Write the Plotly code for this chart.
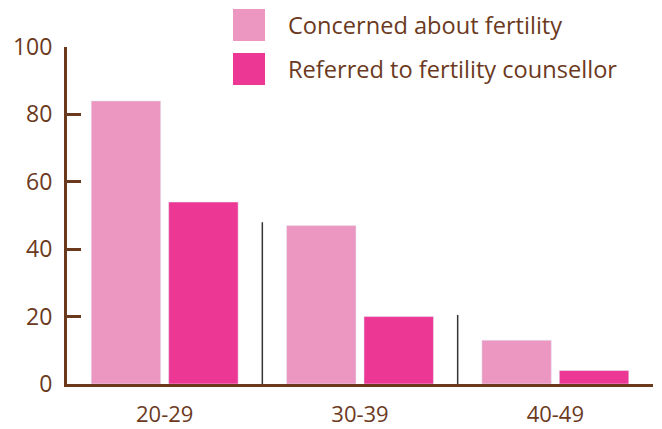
import plotly.graph_objects as go

categories = ["20-29", "30-39", "40-49"]
concerned = [84, 47, 13]
referred = [54, 20, 4]
series_names = ["Concerned about fertility", "Referred to fertility counsellor"]
separator_heights = [48, 20.5]

BROWN = "#6B3A1E"
LIGHT = "#EC97C1"
DARK = "#EC3894"
FONT = "Open Sans, sans-serif"
FS = 23

fig = go.Figure()
fig.add_bar(x=categories, y=concerned, name=series_names[0], marker_color=LIGHT, showlegend=False)
fig.add_bar(x=categories, y=referred, name=series_names[1], marker_color=DARK, showlegend=False)

shapes = []
for i, h in enumerate(separator_heights):
    shapes.append(dict(type="line", xref="x", yref="y", x0=i + 0.5, x1=i + 0.5, y0=0, y1=h,
                       line=dict(color="#333333", width=1.5)))
# custom legend
annotations = []
for j, (name, col) in enumerate(zip(series_names, [LIGHT, DARK])):
    y_top = 9 + j * 44
    shapes.append(dict(type="rect", xref="paper", yref="paper",
                       x0=(233 - 67) / 586, x1=(265 - 67) / 586,
                       y0=1 - (y_top + 32 - 47) / 337, y1=1 - (y_top - 47) / 337,
                       fillcolor=col, line=dict(width=0), layer="above"))
    annotations.append(dict(xref="paper", yref="paper", x=(286 - 67) / 586,
                            y=1 - (y_top + 16 - 47) / 337, text=name, showarrow=False,
                            xanchor="left", yanchor="middle",
                            font=dict(family=FONT, size=23.6, color=BROWN)))

fig.update_layout(
    width=662, height=429,
    margin=dict(l=67, r=9, t=47, b=45),
    paper_bgcolor="white", plot_bgcolor="white",
    barmode="group", bargap=0.207, bargroupgap=0.103,
    shapes=shapes, annotations=annotations,
    font=dict(family=FONT, color=BROWN, size=FS),
)
fig.update_xaxes(showline=True, linecolor=BROWN, linewidth=3, showgrid=False,
                 ticks="", ticklabelstandoff=9, range=[-0.5, 2.5], automargin=False,
                 tickfont=dict(family=FONT, size=22, color=BROWN))
fig.update_yaxes(range=[0, 100], tickvals=[0, 20, 40, 60, 80, 100], showline=True,
                 linecolor=BROWN, linewidth=3, showgrid=False, zeroline=False,
                 ticks="inside", ticklen=14, tickwidth=3, tickcolor=BROWN,
                 ticklabelstandoff=7, automargin=False,
                 tickfont=dict(family=FONT, size=FS, color=BROWN))

fig.write_html("out.html", config={"displayModeBar": False},
               post_script="document.body.style.margin='0';")
